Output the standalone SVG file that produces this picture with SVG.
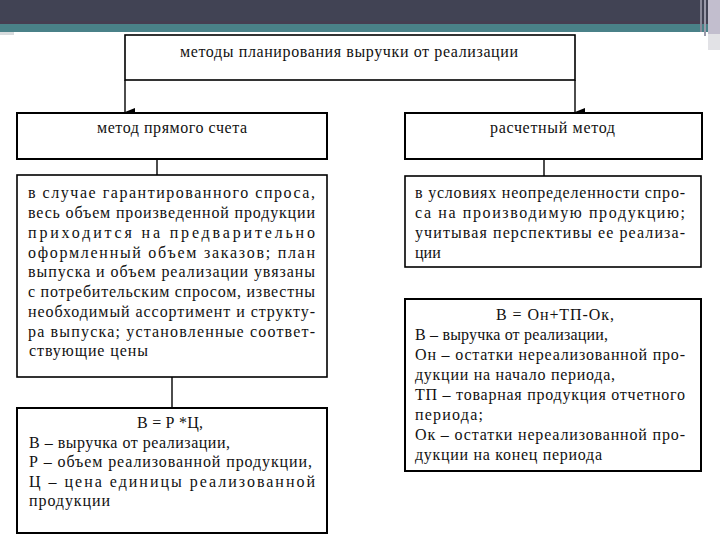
<svg xmlns="http://www.w3.org/2000/svg" width="720" height="540" viewBox="0 0 720 540">
<defs>
<marker id="arr" markerWidth="8" markerHeight="10" refX="4" refY="10" orient="auto-start-reverse" markerUnits="userSpaceOnUse" viewBox="0 0 8 10">
<path d="M0,0 L8,0 L4,10 Z" fill="#000"/>
</marker>
</defs>
<style>
text{font-family:'Liberation Serif','Times New Roman',serif;font-size:16px;fill:#111}
.box{fill:#fff;stroke:#000;stroke-width:1.6}
.hb{fill:#fff;stroke:#000;stroke-width:2}
.ln{stroke:#000;stroke-width:1.4;fill:none}
</style>
<rect x="0" y="0" width="720" height="540" fill="#fff"/>
<g id="header">
<rect x="0" y="0" width="720" height="24" fill="#414354"/>
<rect x="0" y="21" width="720" height="3" fill="#463f52"/>
<rect x="0" y="24" width="720" height="8" fill="#4a8188"/>
<rect x="0" y="32" width="14" height="3" fill="#d8dcde"/>
<rect x="700" y="0" width="2" height="32" fill="#8a8a9a"/>
<rect x="704" y="0" width="2" height="36" fill="#9a9aaa"/>
<rect x="708" y="0" width="12" height="34" fill="#c2bece"/>
<rect x="708" y="34" width="12" height="16" fill="#e2e2e6"/>
</g>
<g id="connectors">
<line class="ln" x1="125" y1="80" x2="125" y2="112" marker-end="url(#arr)"/>
<line class="ln" x1="575" y1="80" x2="575" y2="112" marker-end="url(#arr)"/>
<line class="ln" x1="157" y1="159" x2="157" y2="175"/>
<line class="ln" x1="544" y1="159" x2="544" y2="176"/>
<line class="ln" x1="172" y1="377" x2="172" y2="408"/>
</g>
<g id="root">
<rect class="box" x="125" y="35" width="450" height="45" stroke-width="1.2"/>
<text x="180" y="57" textLength="338" lengthAdjust="spacing">методы планирования выручки от реализации</text>
</g>
<g id="direct">
<rect class="hb" x="17" y="113" width="310" height="46"/>
<text x="97" y="133" textLength="150" lengthAdjust="spacing">метод прямого счета</text>
</g>
<g id="calc">
<rect class="hb" x="405" y="113" width="297" height="46"/>
<text x="490" y="133" textLength="125" lengthAdjust="spacing">расчетный метод</text>
</g>
<g id="direct-desc">
<rect class="box" x="17" y="175" width="310" height="202"/>
<text x="28" y="198" textLength="287" lengthAdjust="spacing">в случае гарантированного спроса,</text>
<text x="28" y="218" textLength="287" lengthAdjust="spacing">весь объем произведенной продукции</text>
<text x="28" y="238" textLength="287" lengthAdjust="spacing">приходится на предварительно</text>
<text x="28" y="258" textLength="287" lengthAdjust="spacing">оформленный объем заказов; план</text>
<text x="28" y="277" textLength="287" lengthAdjust="spacing">выпуска и объем реализации увязаны</text>
<text x="28" y="297" textLength="287" lengthAdjust="spacing">с потребительским спросом, известны</text>
<text x="28" y="317" textLength="287" lengthAdjust="spacing">необходимый ассортимент и структу-</text>
<text x="28" y="337" textLength="287" lengthAdjust="spacing">ра выпуска; установленные соответ-</text>
<text x="29" y="356" textLength="119" lengthAdjust="spacing">ствующие цены</text>
</g>
<g id="calc-desc">
<rect class="box" x="405" y="176" width="296" height="91"/>
<text x="415" y="198" textLength="270" lengthAdjust="spacing">в условиях неопределенности спро-</text>
<text x="415" y="218" textLength="270" lengthAdjust="spacing">са на производимую продукцию;</text>
<text x="415" y="238" textLength="270" lengthAdjust="spacing">учитывая перспективы ее реализа-</text>
<text x="415" y="258">ции</text>
</g>
<g id="direct-formula">
<rect class="hb" x="17" y="408" width="310" height="125"/>
<text x="137" y="428" textLength="66" lengthAdjust="spacing">В = Р *Ц,</text>
<text x="29" y="447.5" textLength="201" lengthAdjust="spacing">В – выручка от реализации,</text>
<text x="29" y="467" textLength="283" lengthAdjust="spacing">Р – объем реализованной продукции,</text>
<text x="29" y="486.5" textLength="286" lengthAdjust="spacing">Ц – цена единицы реализованной</text>
<text x="29" y="506" textLength="81" lengthAdjust="spacing">продукции</text>
</g>
<g id="calc-formula">
<rect class="hb" x="405" y="299" width="296" height="172"/>
<text x="496" y="320" textLength="118" lengthAdjust="spacing">В = Он+ТП-Ок,</text>
<text x="415" y="340" textLength="193" lengthAdjust="spacing">В – выручка от реализации,</text>
<text x="415" y="360" textLength="270" lengthAdjust="spacing">Он – остатки нереализованной про-</text>
<text x="415" y="380" textLength="200" lengthAdjust="spacing">дукции на начало периода,</text>
<text x="415" y="400" textLength="270" lengthAdjust="spacing">ТП – товарная продукция отчетного</text>
<text x="415" y="420" textLength="68" lengthAdjust="spacing">периода;</text>
<text x="415" y="440" textLength="270" lengthAdjust="spacing">Ок – остатки нереализованной про-</text>
<text x="415" y="460" textLength="187" lengthAdjust="spacing">дукции на конец периода</text>
</g>
</svg>
